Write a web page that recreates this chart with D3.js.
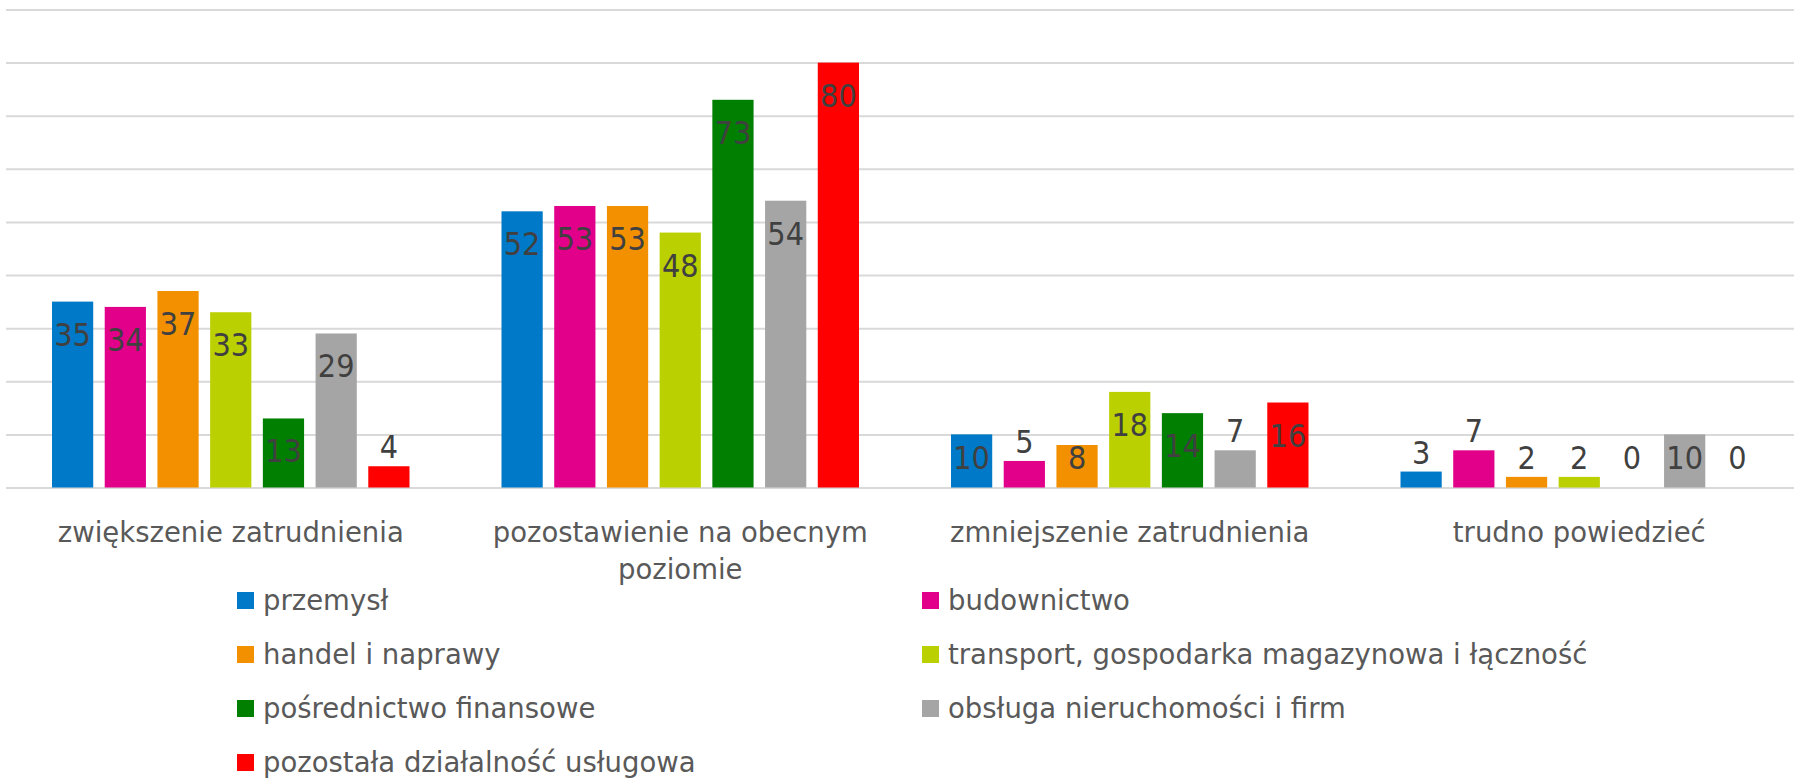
<!DOCTYPE html>
<html>
<head>
<meta charset="utf-8">
<script src="https://cdn.jsdelivr.net/npm/d3@7"></script>
<style>
    body { margin: 0; background: #fff; }
    svg { display: block; }
</style>
</head>
<body>
<svg id="chart"></svg>
<script>
// categories on the x axis, wrapped tick labels
var categories = ["zwiększenie zatrudnienia", "pozostawienie na obecnym poziomie", "zmniejszenie zatrudnienia", "trudno powiedzieć"];
var tickLabels = [["zwiększenie zatrudnienia"], ["pozostawienie na obecnym", "poziomie"], ["zmniejszenie zatrudnienia"], ["trudno powiedzieć"]];

// series (sectors)
var sectors = ["przemysł", "budownictwo", "handel i naprawy", "transport, gospodarka magazynowa i łączność", "pośrednictwo finansowe", "obsługa nieruchomości i firm", "pozostała działalność usługowa"];
var colors = ["#0079c8", "#e2008a", "#f39000", "#bbd000", "#007f00", "#a5a5a5", "#ff0000"];

// values per sector, one per category
var przemysl = [35, 52, 10, 3];
var budownictwo = [34, 53, 5, 7];
var handel = [37, 53, 8, 2];
var transport = [33, 48, 18, 2];
var posrednictwo = [13, 73, 14, 0];
var obsluga = [29, 54, 7, 10];
var pozostala = [4, 80, 16, 0];
var seriesValues = [przemysl, budownictwo, handel, transport, posrednictwo, obsluga, pozostala];

var yTicks = [0, 10, 20, 30, 40, 50, 60, 70, 80, 90];

var width = 1794,
    height = 778;

var svg = d3.select("#chart")
    .attr("width", width)
    .attr("height", height);

// set the ranges
var x0 = d3.scaleBand()
    .domain(categories)
    .range([6, 1804])
    .padding(0);

var x1 = d3.scaleBand()
    .domain(sectors)
    .range([46, x0.bandwidth() - 46])
    .paddingInner(0.218)
    .paddingOuter(0);

var y = d3.scaleLinear()
    .domain([0, 90])
    .range([487.5, 9.5]);

// gridlines
var grid = svg.append("g")
    .attr("transform", "translate(6,0)")
    .call(d3.axisLeft(y).tickValues(yTicks).tickSize(-1800).tickFormat(""));
grid.select(".domain").remove();
grid.selectAll(".tick line")
    .attr("stroke", "#d9d9d9")
    .attr("stroke-width", 2);

// bars
var data = [];
categories.forEach(function(c, ci) {
    sectors.forEach(function(s, si) {
        data.push({ cat: c, sector: s, value: seriesValues[si][ci], color: colors[si] });
    });
});

var bars = svg.append("g");
bars.selectAll("rect")
    .data(data)
    .enter().append("rect")
    .attr("x", function(d) { return x0(d.cat) + x1(d.sector); })
    .attr("y", function(d) { return y(d.value); })
    .attr("width", x1.bandwidth())
    .attr("height", function(d) { return y(0) - y(d.value); })
    .attr("fill", function(d) { return d.color; });

// value labels: inside end when the bar is tall enough, above otherwise
var clampBase = y(0) - 19;
bars.selectAll("text")
    .data(data)
    .enter().append("text")
    .attr("x", function(d) { return x0(d.cat) + x1(d.sector) + x1.bandwidth() / 2; })
    .attr("y", function(d) {
        var top = y(d.value);
        var h = y(0) - top;
        return h >= 40 ? Math.min(top + 44, clampBase) : Math.min(top - 8, clampBase);
    })
    .attr("text-anchor", "middle")
    .style("font-family", "'DejaVu Sans Condensed', 'DejaVu Sans', sans-serif")
    .style("font-stretch", "condensed")
    .style("font-size", "32px")
    .style("fill", "#404040")
    .text(function(d) { return d.value; });

// x axis labels
var xAxis = svg.append("g")
    .attr("transform", "translate(0," + y(0) + ")")
    .call(d3.axisBottom(x0).tickSize(0).tickFormat(""));
xAxis.select(".domain").remove();
xAxis.selectAll(".tick text")
    .attr("y", 54)
    .attr("dy", null)
    .style("font-family", "'DejaVu Sans', sans-serif")
    .style("font-size", "27.5px")
    .style("fill", "#595959")
    .each(function(d, i) {
        var t = d3.select(this);
        tickLabels[i].forEach(function(line, li) {
            t.append("tspan")
                .attr("x", 0)
                .attr("dy", li === 0 ? 0 : 37)
                .text(line);
        });
    });

// legend
var legend = svg.append("g");
var item = legend.selectAll("g")
    .data(sectors)
    .enter().append("g")
    .attr("transform", function(d, i) {
        var col = i % 2, row = Math.floor(i / 2);
        return "translate(" + (col === 0 ? 237 : 922) + "," + (600.5 + row * 54) + ")";
    });
item.append("rect")
    .attr("x", 0)
    .attr("y", -8.5)
    .attr("width", 17)
    .attr("height", 17)
    .attr("fill", function(d, i) { return colors[i]; });
item.append("text")
    .attr("x", 26)
    .attr("y", 9.5)
    .style("font-family", "'DejaVu Sans', sans-serif")
    .style("font-size", "27.5px")
    .style("fill", "#595959")
    .text(function(d) { return d; });
</script>
</body>
</html>
